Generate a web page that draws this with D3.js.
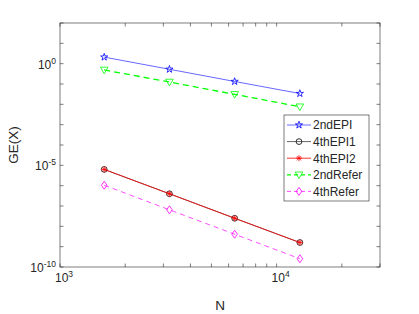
<!DOCTYPE html>
<html>
<head>
<meta charset="utf-8">
<script src="https://cdn.jsdelivr.net/npm/d3@7"></script>
<style>
  body { margin: 0; background: white; }
  text { font-family: "Liberation Sans", Arial, sans-serif; fill: #262626; }
</style>
</head>
<body>
<script>
// data
const N = [1600, 3200, 6400, 12800]
const epi2nd  = [2.1, 0.53, 0.133, 0.034]
const epi4th1 = [6.3e-6, 4.0e-7, 2.5e-8, 1.6e-9]
const epi4th2 = [6.3e-6, 4.0e-7, 2.5e-8, 1.6e-9]
const refer2nd = [0.49, 0.125, 0.031, 0.0076]
const refer4th = [1.05e-6, 6.5e-8, 4.1e-9, 2.55e-10]

const xTicks = [1e3, 1e4]
const xMinor = [2e3, 3e3, 4e3, 5e3, 6e3, 7e3, 8e3, 9e3, 2e4, 3e4]
const yTicks = [1e-10, 1e-5, 1e0]
const yMinor = d3.range(-10, 3).map(e => Math.pow(10, e))

const [width, height] = [419, 314]
const box = {left: 60, right: 380, top: 23, bottom: 267}
const axisColor = "#262626"

const series = [
    {name: "2ndEPI",   values: epi2nd,   color: "#0000ff", dash: null,  sw: 0.6, marker: "star"},
    {name: "4thEPI1",  values: epi4th1,  color: "#000000", dash: null,  sw: 0.6, marker: "circle"},
    {name: "4thEPI2",  values: epi4th2,  color: "#ff0000", dash: null,  sw: 0.8, marker: "asterisk"},
    {name: "2ndRefer", values: refer2nd, color: "#00ff00", dash: "6,4", sw: 1.3, marker: "triDown"},
    {name: "4thRefer", values: refer4th, color: "#ff00ff", dash: "5,4", sw: 0.7, marker: "diamond"}
]

const x = d3.scaleLog().domain([1e3, 3e4]).range([box.left, box.right])
const y = d3.scaleLog().domain([1e-10, 1e2]).range([box.bottom, box.top])

const svg = d3.select("body").append("svg")
    .attr("width", width)
    .attr("height", height)

// marker paths, centered at 0,0
function markerPath(kind) {
    if (kind === "star") return d3.symbol(d3.symbolStar, 16)()
    if (kind === "circle") return d3.symbol(d3.symbolCircle, 26)()
    if (kind === "diamond") return "M0,-4L2.8,0L0,4L-2.8,0Z"
    if (kind === "triDown") return "M-3.8,-2.8L3.8,-2.8L0,3.8Z"
    if (kind === "asterisk") {
        const r = 3, d = r * 0.707
        return `M${-r},0L${r},0M0,${-r}L0,${r}M${-d},${-d}L${d},${d}M${-d},${d}L${d},${-d}`
    }
}

// axes box
svg.append("rect")
    .attr("x", box.left).attr("y", box.top)
    .attr("width", box.right - box.left).attr("height", box.bottom - box.top)
    .attr("fill", "white")
    .attr("stroke", axisColor).attr("stroke-width", 0.6)

const ticks = svg.append("g").attr("stroke", axisColor).attr("stroke-width", 0.6)
const tl = 3.5

xTicks.concat(xMinor).forEach(v => {
    const px = x(v)
    ticks.append("line").attr("x1", px).attr("x2", px).attr("y1", box.bottom).attr("y2", box.bottom - tl)
    ticks.append("line").attr("x1", px).attr("x2", px).attr("y1", box.top).attr("y2", box.top + tl)
})
yMinor.forEach(v => {
    const py = y(v)
    ticks.append("line").attr("y1", py).attr("y2", py).attr("x1", box.left).attr("x2", box.left + tl)
    ticks.append("line").attr("y1", py).attr("y2", py).attr("x1", box.right).attr("x2", box.right - tl)
})

// tick labels as 10^k
function powLabel(g, v, px, py, anchor) {
    const e = Math.round(Math.log10(v))
    const t = g.append("text")
        .attr("x", px).attr("y", py)
        .attr("text-anchor", anchor)
        .attr("font-size", 12)
    t.append("tspan").text("10")
    t.append("tspan").attr("dy", -5).attr("font-size", 8.5).text(e)
}

const labels = svg.append("g")
xTicks.forEach(v => powLabel(labels, v, x(v) + 4, 282, "middle"))
yTicks.forEach(v => powLabel(labels, v, box.left - 4, y(v) + 5, "end"))

svg.append("text")
    .attr("x", (box.left + box.right) / 2).attr("y", 310)
    .attr("text-anchor", "middle").attr("font-size", 13.5)
    .text("N")

svg.append("text")
    .attr("transform", `translate(18,${(box.top + box.bottom) / 2}) rotate(-90)`)
    .attr("text-anchor", "middle").attr("font-size", 13.5)
    .text("GE(X)")

// lines + markers
const line = d3.line().x(d => x(d[0])).y(d => y(d[1]))

series.forEach(s => {
    const pts = N.map((n, i) => [n, s.values[i]])
    svg.append("path")
        .attr("d", line(pts))
        .attr("fill", "none")
        .attr("stroke", s.color)
        .attr("stroke-width", s.sw)
        .attr("stroke-dasharray", s.dash)
    svg.append("g").selectAll("path")
        .data(pts)
        .enter()
        .append("path")
            .attr("transform", d => `translate(${x(d[0])},${y(d[1])})`)
            .attr("d", markerPath(s.marker))
            .attr("fill", "none")
            .attr("stroke", s.color)
            .attr("stroke-width", 0.8)
})

// legend
const lg = {x: 284, y: 115, w: 85, h: 86, row: 16.6}
const legend = svg.append("g")
legend.append("rect")
    .attr("x", lg.x).attr("y", lg.y).attr("width", lg.w).attr("height", lg.h)
    .attr("fill", "white").attr("stroke", axisColor).attr("stroke-width", 0.6)

series.forEach((s, i) => {
    const cy = lg.y + 10 + i * lg.row
    legend.append("line")
        .attr("x1", lg.x + 3).attr("x2", lg.x + 27)
        .attr("y1", cy).attr("y2", cy)
        .attr("stroke", s.color)
        .attr("stroke-width", s.sw)
        .attr("stroke-dasharray", s.dash ? "4,3" : null)
    legend.append("path")
        .attr("transform", `translate(${lg.x + 15},${cy})`)
        .attr("d", markerPath(s.marker))
        .attr("fill", "none")
        .attr("stroke", s.color)
        .attr("stroke-width", 0.8)
    legend.append("text")
        .attr("x", lg.x + 29).attr("y", cy + 4.3)
        .attr("font-size", 12)
        .attr("fill", "#000")
        .text(s.name)
})
</script>
</body>
</html>
